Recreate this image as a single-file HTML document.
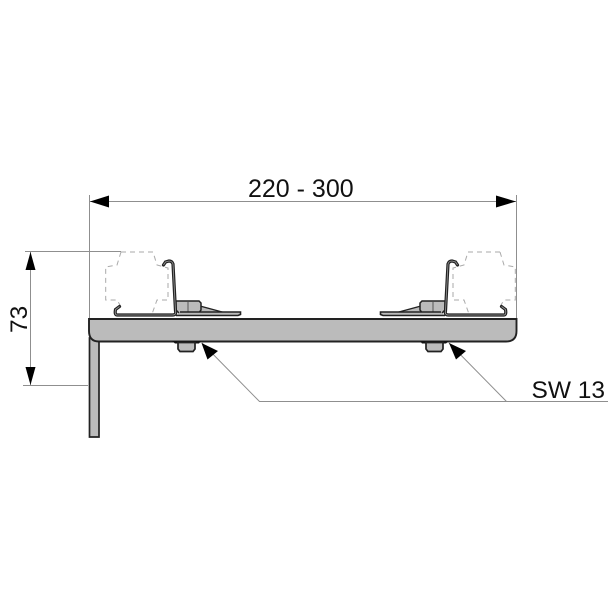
<!DOCTYPE html>
<html><head><meta charset="utf-8"><style>
html,body{margin:0;padding:0;background:#fff}
svg{display:block}
text{font-family:"Liberation Sans",sans-serif;fill:#111}
</style></head><body>
<svg width="608" height="609" viewBox="0 0 608 609" xmlns="http://www.w3.org/2000/svg">
<defs>
<g id="rail">
  <path d="M121 252H153L157 265L168 268V300L157 300L152 314M121 252L117 265L105.700 267V300L117 300L120 305" fill="none" stroke="#aaa" stroke-width="1" stroke-dasharray="5 4"/>
  <path d="M200 306L224 312.500H200Z" fill="#bbb" stroke="#222" stroke-width="1.400"/>
  <path d="M176 301H199L201 303V310L198 314H180L176 310Z" fill="#bbb" stroke="#222" stroke-width="1.500"/>
  <path d="M188 302V313" stroke="#555" stroke-width="1"/>
  <path d="M180 312H240.500V314.500L238 315.500H176" fill="#bbb" stroke="#222" stroke-width="1.600"/>
  <path d="M119.500 306.500L115.500 309.500Q114.500 315 117 315H172.500Q176.500 315 175.500 311L173 264Q172 261 169 261L165.500 262L163.500 265" fill="none" stroke="#222" stroke-width="3.200" stroke-linecap="round"/>
  <path d="M119.500 306.500L115.500 309.500Q114.500 315 117 315H172.500Q176.500 315 175.500 311L173 264Q172 261 169 261L165.500 262L163.500 265" fill="none" stroke="#999" stroke-width="0.800"/>
  <path d="M172 341H201L199 343.500H175Z" fill="#111"/>
  <path d="M178 342.500V349L180 351.500H193L195 349V342.500Z" fill="#bbb" stroke="#222" stroke-width="1.700"/>
</g>
</defs>
<rect width="608" height="609" fill="#fff"/>

<!-- extension and dimension lines -->
<g stroke="#8f8f8f" stroke-width="1" fill="none">
  <path d="M89.500 195V318M516.500 195V318"/>
  <path d="M25 251.500H121M23 385.500H88"/>
  <path d="M90 201.500H516M30.500 252V385"/>
  <path d="M202 343L259.500 401.500H608M449 343L506.500 401.500"/>
</g>

<!-- leg sits behind the plate so the rounded corner stays visible -->
<path d="M89.500 338V437H99V338Z" fill="#bbb" stroke="#222" stroke-width="1.700"/>
<path d="M89 319H516.500V331Q516.500 341.500 506 341.500H99Q89 341.500 89 331Z" fill="#bbb" stroke="#222" stroke-width="1.900"/>

<use href="#rail"/>
<use href="#rail" transform="translate(621 0) scale(-1 1)"/>

<!-- arrowheads -->
<g fill="#000">
  <path d="M90 201.500L109 195.500V207.500Z"/>
  <path d="M516 201.500L496 195.500V207.500Z"/>
  <path d="M30.500 252L25.500 270H35.500Z"/>
  <path d="M30.500 385L25.500 367H35.500Z"/>
  <path d="M201.500 343L218 351L207.500 359.500Z"/>
  <path d="M449 343L466 351L456 359.500Z"/>
</g>

<!-- labels -->
<text x="248" y="197" font-size="25">220 - 300</text>
<text x="531.500" y="398" font-size="24.500">SW 13</text>
<text transform="translate(27 333) rotate(-90)" font-size="24.500">73</text>
</svg>
</body></html>
